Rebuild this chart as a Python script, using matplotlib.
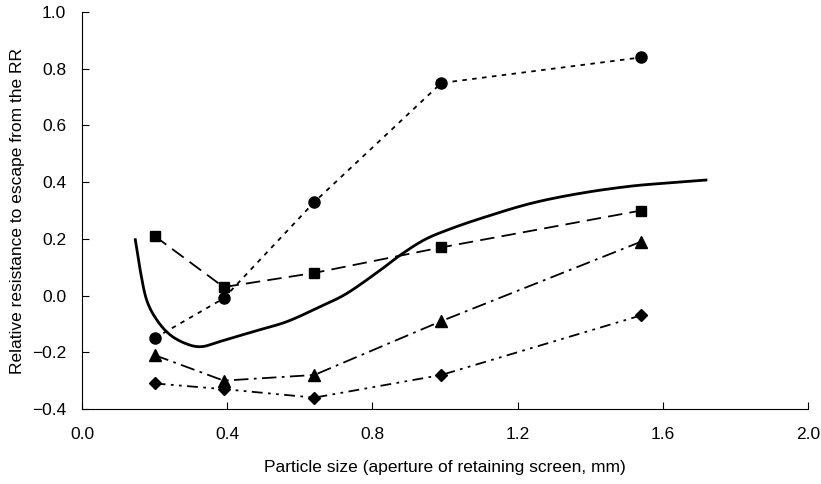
import numpy as np
import matplotlib
matplotlib.use('Agg')
import matplotlib.pyplot as plt

# datos
particle_size = [0.2, 0.39, 0.64, 0.99, 1.54]
rr_circle = [-0.15, -0.01, 0.33, 0.75, 0.84]
rr_square = [0.21, 0.03, 0.08, 0.17, 0.30]
rr_triangle = [-0.21, -0.30, -0.28, -0.09, 0.19]
rr_diamond = [-0.31, -0.33, -0.36, -0.28, -0.07]

curve_x = [0.146, 0.160, 0.178, 0.206, 0.243, 0.289, 0.330, 0.380, 0.472, 0.564, 0.656,
           0.730, 0.822, 0.877, 0.942, 1.006, 1.098, 1.236, 1.374, 1.512, 1.622, 1.723]
curve_y = [0.202, 0.090, -0.016, -0.086, -0.139, -0.171, -0.180, -0.162, -0.127, -0.092, -0.039,
           0.008, 0.090, 0.143, 0.196, 0.231, 0.272, 0.325, 0.361, 0.386, 0.398, 0.408]


def suavizar(x, y, n=20):
    """Catmull-Rom solo para dibujar la curva continua sin esquinas."""
    x = np.asarray(x, float)
    y = np.asarray(y, float)
    px = np.concatenate([[2*x[0]-x[1]], x, [2*x[-1]-x[-2]]])
    py = np.concatenate([[2*y[0]-y[1]], y, [2*y[-1]-y[-2]]])
    t = np.linspace(0, 1, n, endpoint=False)
    xs, ys = [], []
    for i in range(1, len(px)-2):
        for p, out in ((px, xs), (py, ys)):
            p0, p1, p2, p3 = p[i-1], p[i], p[i+1], p[i+2]
            out.extend(0.5*((2*p1) + (-p0+p2)*t + (2*p0-5*p1+4*p2-p3)*t**2
                            + (-p0+3*p1-3*p2+p3)*t**3))
    xs.append(x[-1])
    ys.append(y[-1])
    return np.array(xs), np.array(ys)


plt.rcParams['font.family'] = ['Liberation Sans', 'DejaVu Sans']

fig = plt.figure(figsize=(8.21, 4.84), dpi=100)
ax = fig.add_axes([0.1, 0.155, 0.884, 0.82])

sx, sy = suavizar(curve_x, curve_y)
ax.plot(sx, sy, color='black', lw=2.0, solid_capstyle='butt')
ax.plot(particle_size, rr_circle, color='black', lw=1.3, ls=(0, (2.5, 3)),
        marker='o', ms=8)
ax.plot(particle_size, rr_square, color='black', lw=1.3, ls=(0, (8, 4)),
        marker='s', ms=7)
ax.plot(particle_size, rr_triangle, color='black', lw=1.3, ls=(0, (8, 3, 1.5, 3)),
        marker='^', ms=8)
ax.plot(particle_size, rr_diamond, color='black', lw=1.3, ls=(0, (6, 3, 1.5, 3, 1.5, 3)),
        marker='D', ms=6)

ax.set_xlim(0, 2.0)
ax.set_ylim(-0.4, 1.0)
ax.set_xticks(np.arange(0, 2.01, 0.4))
ax.set_yticks(np.arange(-0.4, 1.01, 0.2))
ax.set_xticklabels([f'{v:.1f}' for v in np.arange(0, 2.01, 0.4)])
ax.set_yticklabels([f'{v:.1f}'.replace('-', '\u2212') for v in np.arange(-0.4, 1.01, 0.2)])
ax.spines['top'].set_visible(False)
ax.spines['right'].set_visible(False)
ax.tick_params(direction='in', length=5, labelsize=12.5)
ax.tick_params(axis='x', pad=13)
ax.tick_params(axis='y', pad=11.5)
ax.set_xlabel('Particle size (aperture of retaining screen, mm)', fontsize=12.5, labelpad=13)
ax.set_ylabel('Relative resistance to escape from the RR', fontsize=12.5, labelpad=5)

fig.savefig('out.png', dpi=100)
